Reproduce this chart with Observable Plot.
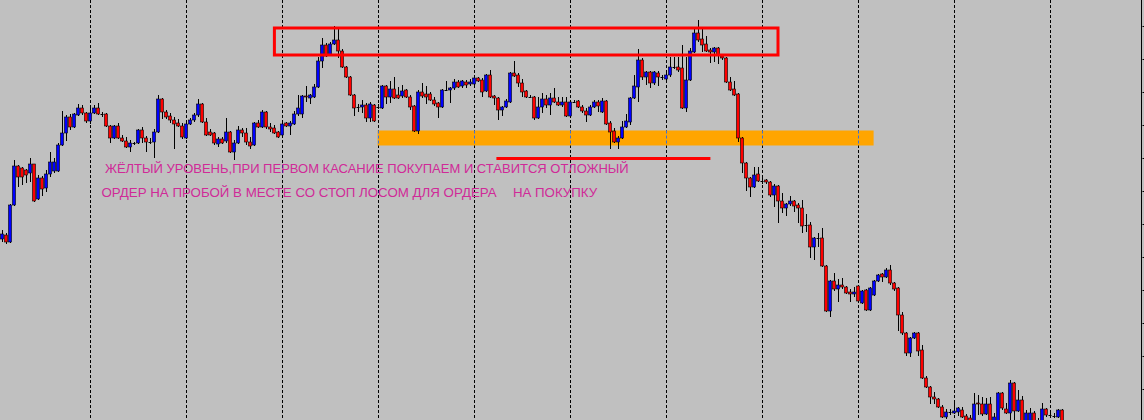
<!DOCTYPE html>
<html><head><meta charset="utf-8">
<script src="https://cdn.jsdelivr.net/npm/d3@7"></script>
<script src="https://cdn.jsdelivr.net/npm/@observablehq/plot@0.6"></script>
<style>html,body{margin:0;padding:0;background:#c0c0c0;}#chart{width:1144px;height:420px;overflow:hidden;}</style>
</head><body><div id="chart"></div>
<script>
const open = [261,265,258,295,334,332,330,327,336,301,322,312,326,329,329,355,367,383,373,385,392,387,379,387,392,386,386,374,362,374,362,359,353,357,357,370,362,358,358,368,401,388,384,380,377,374,362,376,380,385,396,378,368,367,356,361,359,368,348,357,370,367,358,355,377,373,388,373,372,368,365,377,374,376,386,386,404,402,403,413,439,455,445,456,460,449,433,423,405,393,393,395,382,395,393,392,414,403,411,405,404,410,403,394,369,408,406,406,400,397,393,410,410,412,418,414,418,416,416,422,420,409,425,404,402,390,393,398,427,425,417,409,403,403,382,393,401,395,402,398,395,398,384,398,399,393,389,385,393,398,388,399,377,369,358,362,373,378,402,413,440,423,428,417,427,423,421,425,433,433,432,392,420,448,467,461,456,450,448,452,444,442,418,411,406,362,337,322,313,326,319,320,318,305,314,299,292,296,299,295,292,275,275,253,262,262,234,189,219,211,215,213,208,206,214,197,210,190,205,219,226,223,230,217,212,185,167,147,162,167,150,122,113,103,101,93,83,88,87,88,90,84,82,76,97,96,86,96,76,76,107,91,87,117,89,100,76,76,87,76,76,91,85,84,83,90];
const high = [270,267,296,340,335,333,331,342,336,325,324,330,348,342,357,389,385,386,387,396,395,388,392,395,397,388,387,375,375,377,365,363,360,358,371,373,364,362,371,405,402,390,387,383,381,377,380,382,387,401,397,382,371,368,363,363,382,369,360,374,372,372,363,378,380,390,389,377,375,369,377,378,379,389,405,405,414,406,416,443,462,457,458,474,471,451,434,424,406,396,400,397,398,396,396,415,415,419,423,413,415,411,405,395,410,417,414,408,403,398,411,419,413,421,420,420,420,421,424,423,422,426,430,405,403,394,401,428,439,427,421,410,405,404,403,407,405,407,412,403,403,403,399,400,400,395,392,395,400,400,402,400,379,372,364,379,386,403,425,451,442,429,429,429,429,425,427,443,443,443,455,443,452,473,480,473,464,452,453,453,446,443,423,419,407,363,338,323,333,333,325,321,319,316,315,307,297,304,300,297,300,286,278,263,267,272,235,220,227,221,222,214,211,213,215,210,211,213,220,226,227,232,235,218,213,188,168,163,168,168,155,124,114,108,102,95,91,91,98,93,93,86,85,107,105,103,102,103,87,108,108,97,120,118,110,104,90,92,89,82,97,92,87,87,91,91];
const low = [258,256,257,294,313,315,317,318,298,300,304,308,323,327,328,354,359,370,372,384,385,377,376,386,385,383,373,357,361,361,358,352,348,355,356,357,348,356,342,367,381,381,377,351,373,361,361,375,378,383,377,364,364,355,353,356,357,347,340,356,363,355,351,354,372,372,371,368,366,362,364,373,365,375,384,382,398,396,402,412,432,443,444,455,442,432,422,404,384,388,387,378,378,378,391,391,396,397,401,401,402,402,390,368,366,402,396,399,394,382,392,409,397,410,412,412,412,414,412,418,403,408,402,395,380,384,392,397,423,413,403,402,402,380,381,387,392,385,397,394,393,383,383,397,392,387,378,384,392,388,387,375,351,357,351,361,372,375,401,398,420,415,412,415,414,420,419,423,431,428,391,388,419,447,458,448,448,437,438,436,440,417,409,404,358,327,309,303,312,318,316,316,303,293,277,287,284,294,288,277,267,268,242,240,253,233,188,183,209,198,211,206,198,203,197,196,189,189,204,218,218,222,215,209,169,165,144,143,161,144,121,112,96,96,92,82,81,85,86,84,82,76,76,74,85,84,85,74,74,74,90,86,80,80,88,74,74,74,74,74,74,83,83,82,82,74];
const close = [266,258,295,334,323,323,325,336,299,322,311,326,338,338,355,367,383,373,386,392,387,379,387,392,386,386,374,362,374,362,359,353,357,357,370,362,358,358,368,401,388,383,380,376,374,363,376,380,385,396,378,365,365,357,361,357,368,348,357,370,367,358,354,377,373,388,373,371,367,363,376,374,377,386,392,404,403,405,413,439,455,444,456,460,449,433,423,405,392,393,395,382,396,379,393,414,403,411,402,402,409,403,393,369,408,404,403,400,396,393,410,410,412,418,413,419,415,418,422,419,408,425,403,402,390,393,399,427,424,417,408,403,403,382,393,401,395,402,398,395,398,384,398,398,393,389,385,393,398,394,399,376,368,358,362,373,379,402,414,440,423,428,417,428,423,423,425,433,433,430,392,420,449,467,460,455,449,448,452,445,442,418,410,405,362,337,322,313,325,319,319,318,305,314,299,292,296,299,294,292,274,275,253,262,262,234,189,219,211,215,213,207,206,208,199,209,190,212,219,225,223,230,217,211,185,167,147,162,167,149,122,113,103,101,93,83,88,88,89,92,83,78,78,96,96,86,96,76,83,107,92,87,117,89,100,76,87,87,76,76,91,85,85,84,90,76];

const gridBars = [22,46,70,94,118,142,166,190,214,238,262];
const priceTicks = [474,441,408,375,342,309,276,243,210,177,144,111];
const resistanceBox = [{from: 68.1, to: 194, top: 472, bottom: 445}];
const supportBand = [{from: 93.9, to: 217.9, top: 369.5, bottom: 354.5}];
const stopLine = [{from: 123.6, to: 177.1, level: 342}];
const headline = [{bar: 25.6, price: 331.5, text: "ЖЁЛТЫЙ УРОВЕНЬ,ПРИ ПЕРВОМ КАСАНИЕ ПОКУПАЕМ И СТАВИТСЯ ОТЛОЖНЫЙ"}];
const subline = [
  {bar: 24.75, price: 308, text: "ОРДЕР НА ПРОБОЙ В МЕСТЕ СО СТОП ЛОСОМ ДЛЯ ОРДЕРА"},
  {bar: 127.6, price: 308, text: "НА ПОКУПКУ"}
];

const bars = open.map((o, i) => ({i, o, h: high[i], l: low[i], c: close[i]}));
const up = bars.filter(d => d.c > d.o);
const down = bars.filter(d => d.c < d.o);
const doji = bars.filter(d => d.c === d.o);
const band = supportBand[0];
const xEnd = 284.75;
const bodyHalf = 0.375;

const chart = Plot.plot({
  width: 1144, height: 420,
  marginTop: 0, marginBottom: 0, marginLeft: 0, marginRight: 2.5,
  style: {background: "#c0c0c0", fontFamily: "'Liberation Sans', Arial, sans-serif", color: "black"},
  x: {domain: [-0.5, 284.875], axis: null},
  y: {domain: [80, 500], axis: null},
  marks: [
    Plot.ruleX(gridBars, {x: d => d, stroke: "black", strokeDasharray: "3,2"}),
    Plot.rect(supportBand, {x1: "from", x2: "to", y1: "top", y2: "bottom", fill: "#ffa500"}),
    Plot.ruleX(gridBars.filter(g => g >= band.from && g <= band.to), {x: d => d, y1: band.top, y2: band.bottom, stroke: "#3a6fd8", strokeDasharray: "3,2"}),
    Plot.ruleX(bars, {x: "i", y1: "l", y2: "h", stroke: "black", clip: true}),
    Plot.rect(up, {x1: d => d.i - bodyHalf, x2: d => d.i + bodyHalf, y1: "o", y2: "c", fill: "#0000ff", stroke: "black", strokeWidth: 0.6, clip: true}),
    Plot.rect(down, {x1: d => d.i - bodyHalf, x2: d => d.i + bodyHalf, y1: "o", y2: "c", fill: "#ff0000", stroke: "black", strokeWidth: 0.6, clip: true}),
    Plot.ruleY(doji, {y: "o", x1: d => d.i - bodyHalf, x2: d => d.i + bodyHalf, stroke: "black", clip: true}),
    Plot.rect(resistanceBox, {x1: "from", x2: "to", y1: "top", y2: "bottom", fill: "none", stroke: "#ff0000", strokeWidth: 3}),
    Plot.ruleY(stopLine, {y: "level", x1: "from", x2: "to", stroke: "#ff0000", strokeWidth: 3}),
    Plot.text(headline, {x: "bar", y: "price", text: "text", textAnchor: "start", fill: "#d02a98", fontSize: 13}),
    Plot.text(subline, {x: "bar", y: "price", text: "text", textAnchor: "start", fill: "#d02a98", fontSize: 13.3}),
    Plot.ruleX([xEnd], {stroke: "black"}),
    Plot.axisY({ticks: priceTicks, anchor: "right", tickSize: 2, tickFormat: () => "", label: null})
  ]
});
document.getElementById("chart").appendChild(chart);
</script>
</body></html>
